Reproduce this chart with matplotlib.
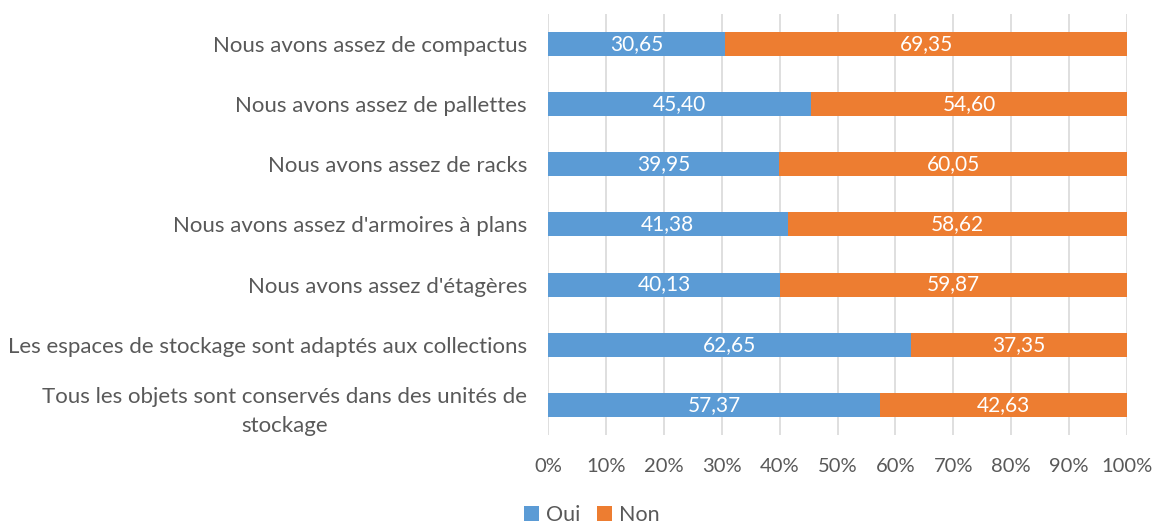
import matplotlib
matplotlib.use("Agg")
import matplotlib.pyplot as plt
import numpy as np

categories = [
    "Nous avons assez de compactus",
    "Nous avons assez de pallettes",
    "Nous avons assez de racks",
    "Nous avons assez d'armoires à plans",
    "Nous avons assez d'étagères",
    "Les espaces de stockage sont adaptés aux collections",
    "Tous les objets sont conservés dans des unités de\nstockage",
]
oui = [30.65, 45.40, 39.95, 41.38, 40.13, 62.65, 57.37]
non = [69.35, 54.60, 60.05, 58.62, 59.87, 37.35, 42.63]
ticks = [0, 10, 20, 30, 40, 50, 60, 70, 80, 90, 100]
tick_labels = [f"{t}%" for t in ticks]

plt.rcParams['font.family'] = ['Lato', 'DejaVu Sans']
gray = '#595959'
blue = '#5B9BD5'
orange = '#ED7D31'

fig = plt.figure(figsize=(11.56, 5.29), dpi=100)
ax = fig.add_axes([0.474, 0.178, 0.501, 0.7955])

y = np.arange(len(categories))
b1 = ax.barh(y, oui, height=0.4, color=blue, label='Oui', zorder=3)
b2 = ax.barh(y, non, left=oui, height=0.4, color=orange, label='Non', zorder=3)

def fmt(v):
    return f"{v:.2f}".replace('.', ',')

for yi, o, n in zip(y, oui, non):
    ax.text(o / 2, yi, fmt(o), ha='center', va='center', color='white', fontsize=15, zorder=4)
    ax.text(o + n / 2, yi, fmt(n), ha='center', va='center', color='white', fontsize=15, zorder=4)

ax.set_ylim(len(categories) - 0.5, -0.5)
ax.set_xlim(0, 100)
ax.set_yticks(y)
ax.set_yticklabels(categories, fontsize=16, color=gray, ha='right', multialignment='center',
                   linespacing=1.55)
ax.tick_params(axis='y', length=0, pad=15)
ax.set_xticks(ticks)
ax.set_xticklabels(tick_labels, fontsize=14.5, color=gray)
ax.tick_params(axis='x', length=0, pad=17)
ax.grid(axis='x', color='#D9D9D9', linewidth=1.2, zorder=0)
for s in ax.spines.values():
    s.set_visible(False)

leg = fig.legend(handles=[b1, b2], labels=['Oui', 'Non'], loc='lower center', bbox_to_anchor=(0.512, 0.004),
                 ncol=2, frameon=False, fontsize=15.5, handlelength=0.7, handleheight=0.7,
                 handletextpad=0.3, columnspacing=0.8, borderaxespad=0, borderpad=0.1)
for t in leg.get_texts():
    t.set_color(gray)

fig.savefig("out.png", dpi=100)
